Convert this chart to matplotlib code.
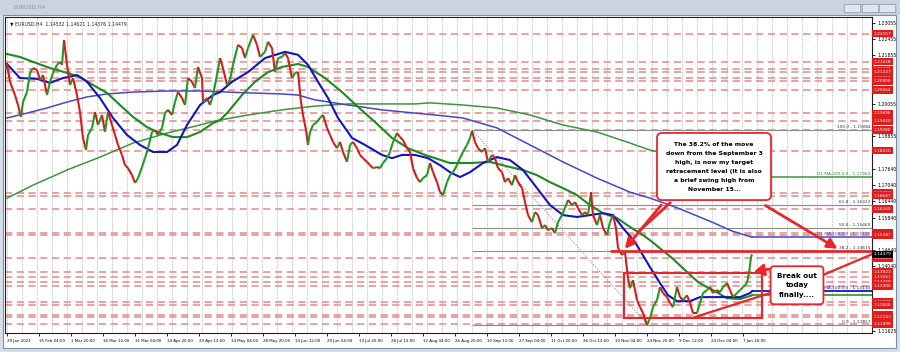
import numpy as np
import matplotlib.pyplot as plt
from matplotlib.collections import LineCollection
from matplotlib.patches import Rectangle, FancyBboxPatch

# EURUSD H4, bar index counted from 29 Jan 2021 00:00
bars = [-2, 0, 6, 16, 22, 28, 32, 40, 46, 52, 60, 66, 72, 80, 86, 92, 100, 106, 110, 114,
        120, 126, 132, 140, 146, 152, 158, 162, 170, 176, 182, 190, 196, 202, 210, 216, 222,
        230, 236, 242, 250, 256, 262, 270, 276, 282, 290, 296, 302, 310, 316, 322, 330, 336,
        342, 350, 356, 362, 370, 376, 382, 390, 392, 400, 406, 412, 420, 426, 432, 440, 446,
        452, 462, 470, 476, 482, 492, 500, 506, 516, 522, 530, 536, 542, 550, 556, 562, 570,
        576, 582, 588, 592, 598, 602, 606, 612, 620, 626, 632, 640, 646, 652, 660, 666, 672,
        680, 686, 692, 700, 706, 712, 720, 726, 732, 740, 746, 752, 760, 766, 772, 780, 786,
        792, 800, 806, 812, 820, 826, 832, 840, 846, 852, 860, 866, 872, 880, 886, 892, 900,
        906, 912, 920, 926, 930, 936, 942, 950, 956, 962, 970, 976, 982, 990, 996, 1002, 1010,
        1016, 1022, 1030, 1036, 1042, 1050, 1056, 1062, 1070, 1076, 1082, 1090, 1096, 1102,
        1110, 1116, 1122, 1130, 1136, 1142, 1150, 1156, 1162, 1168, 1172, 1180, 1186, 1192,
        1200, 1206, 1212, 1218, 1222, 1230, 1236, 1242, 1246, 1252, 1260, 1266, 1272, 1280,
        1286, 1292, 1300, 1306, 1312, 1320, 1326, 1332, 1340, 1346, 1352, 1360, 1366, 1372,
        1380, 1386, 1392, 1400, 1406, 1412, 1420, 1426, 1432, 1440, 1446, 1452, 1460, 1466,
        1472, 1480, 1484, 1488, 1490]
close = [1.2131, 1.2153, 1.2087, 1.2038, 1.2001, 1.1957, 1.2012, 1.2049, 1.2120, 1.2138,
         1.2131, 1.2094, 1.2112, 1.2038, 1.2087, 1.2120, 1.2150, 1.2161, 1.2150, 1.2242,
         1.2150, 1.2075, 1.2101, 1.2038, 1.1975, 1.1879, 1.1834, 1.1890, 1.1916, 1.1975,
         1.1927, 1.1964, 1.1901, 1.1975, 1.1927, 1.1890, 1.1853, 1.1816, 1.1778, 1.1767,
         1.1741, 1.1712, 1.1730, 1.1771, 1.1804, 1.1841, 1.1901, 1.1908, 1.1890, 1.1916,
         1.1971, 1.1983, 1.1964, 1.2012, 1.2049, 1.2027, 1.2001, 1.2101, 1.2087, 1.2064,
         1.2142, 1.2101, 1.2012, 1.2027, 1.2001, 1.2038, 1.2112, 1.2175, 1.2138, 1.2075,
         1.2094, 1.2150, 1.2224, 1.2212, 1.2175, 1.2212, 1.2261, 1.2224, 1.2179, 1.2198,
         1.2235, 1.2212, 1.2123, 1.2175, 1.2179, 1.2194, 1.2175, 1.2101, 1.2120, 1.2123,
         1.2012, 1.1964, 1.1908, 1.1853, 1.1901, 1.1927, 1.1938, 1.1953, 1.1964, 1.1916,
         1.1890, 1.1864, 1.1841, 1.1864, 1.1827, 1.1790, 1.1853, 1.1864, 1.1841, 1.1816,
         1.1804, 1.1790, 1.1778, 1.1767, 1.1771, 1.1767, 1.1786, 1.1804, 1.1827, 1.1864,
         1.1897, 1.1882, 1.1871, 1.1841, 1.1827, 1.1767, 1.1730, 1.1715, 1.1730, 1.1741,
         1.1786, 1.1752, 1.1715, 1.1678, 1.1667, 1.1715, 1.1741, 1.1752, 1.1778, 1.1804,
         1.1827, 1.1853, 1.1879, 1.1905, 1.1864, 1.1841, 1.1827, 1.1841, 1.1790, 1.1816,
         1.1804, 1.1767, 1.1752, 1.1715, 1.1730, 1.1704, 1.1741, 1.1715, 1.1693, 1.1641,
         1.1593, 1.1567, 1.1604, 1.1593, 1.1545, 1.1556, 1.1537, 1.1545, 1.1526, 1.1567,
         1.1593, 1.1619, 1.1649, 1.1630, 1.1641, 1.1619, 1.1593, 1.1604, 1.1593, 1.1678,
         1.1593, 1.1556, 1.1593, 1.1545, 1.1519, 1.1567, 1.1593, 1.1545, 1.1471, 1.1445,
         1.1456, 1.1359, 1.1322, 1.1352, 1.1278, 1.1252, 1.1230, 1.1185, 1.1211, 1.1252,
         1.1278, 1.1326, 1.1304, 1.1289, 1.1267, 1.1252, 1.1326, 1.1289, 1.1278, 1.1296,
         1.1267, 1.1230, 1.1230, 1.1267, 1.1304, 1.1315, 1.1326, 1.1304, 1.1315, 1.1307,
         1.1326, 1.1341, 1.1315, 1.1289, 1.1304, 1.1315, 1.1326, 1.1341, 1.1378, 1.1437,
         1.14479]

# moving averages
ma_h4_100_x = [0, 26, 60, 86, 112, 140, 160, 186, 212, 240, 266, 292, 320, 340, 360, 386,
               412, 426, 450, 482, 516, 556, 582, 602, 622, 642, 662, 690, 716, 750, 770, 790,
               816, 842, 866, 886, 906, 926, 952, 980, 1006, 1032, 1060, 1086, 1112, 1140,
               1166, 1192, 1212, 1232, 1256, 1286, 1306, 1322, 1340, 1366, 1386, 1426, 1466,
               1486, 1490]
ma_h4_100 = [1.2153, 1.2101, 1.2098, 1.2083, 1.2101, 1.2112, 1.2087, 1.2027, 1.1953, 1.1890,
             1.1853, 1.1827, 1.1827, 1.1853, 1.1927, 1.2001, 1.2038, 1.2049, 1.2087, 1.2123,
             1.2175, 1.2198, 1.2187, 1.2150, 1.2087, 1.2027, 1.1953, 1.1879, 1.1853, 1.1816,
             1.1804, 1.1816, 1.1816, 1.1804, 1.1778, 1.1752, 1.1734, 1.1752, 1.1786, 1.1808,
             1.1797, 1.1760, 1.1693, 1.1630, 1.1593, 1.1586, 1.1593, 1.1600, 1.1593, 1.1545,
             1.1493, 1.1400, 1.1341, 1.1296, 1.1274, 1.1274, 1.1289, 1.1289, 1.1289, 1.1304,
             1.1311]
ma_h4_200_x = [0, 26, 52, 86, 120, 146, 172, 200, 226, 252, 280, 306, 332, 360, 386, 412,
               426, 442, 470, 496, 522, 550, 582, 602, 636, 670, 702, 736, 770, 802, 836, 856,
               886, 926, 966, 1006, 1032, 1060, 1086, 1112, 1140, 1166, 1192, 1220, 1246,
               1272, 1286, 1330, 1356, 1382, 1400, 1412, 1440, 1466, 1486, 1490]
ma_h4_200 = [1.2190, 1.2179, 1.2161, 1.2138, 1.2120, 1.2105, 1.2075, 1.2046, 1.2001, 1.1957,
             1.1919, 1.1897, 1.1882, 1.1882, 1.1901, 1.1934, 1.1945, 1.1975, 1.2038, 1.2087,
             1.2123, 1.2142, 1.2153, 1.2142, 1.2101, 1.2049, 1.1994, 1.1938, 1.1879, 1.1841,
             1.1816, 1.1804, 1.1786, 1.1786, 1.1790, 1.1771, 1.1760, 1.1741, 1.1715, 1.1693,
             1.1667, 1.1630, 1.1600, 1.1582, 1.1549, 1.1519, 1.1500, 1.1434, 1.1389, 1.1345,
             1.1326, 1.1315, 1.1285, 1.1282, 1.1293, 1.1296]
ma_d1_100_x = [0, 40, 80, 120, 160, 200, 252, 320, 386, 482, 550, 582, 616, 682, 750, 816,
               856, 912, 980, 1046, 1112, 1180, 1246, 1286, 1342, 1410, 1450, 1490]
ma_d1_100 = [1.1953, 1.1971, 1.1990, 1.2012, 1.2031, 1.2042, 1.2049, 1.2053, 1.2053, 1.2046,
             1.2042, 1.2038, 1.2020, 1.2001, 1.1983, 1.1971, 1.1964, 1.1953, 1.1916, 1.1853,
             1.1790, 1.1730, 1.1678, 1.1656, 1.1619, 1.1567, 1.1534, 1.1511]
ma_d1_200_x = [0, 52, 120, 186, 252, 320, 386, 416, 482, 550, 616, 682, 750, 816, 846, 912,
               980, 1046, 1112, 1180, 1246, 1286, 1386, 1490]
ma_d1_200 = [1.1656, 1.1704, 1.1760, 1.1808, 1.1860, 1.1897, 1.1927, 1.1942, 1.1964, 1.1983,
             1.1997, 1.2005, 1.2005, 1.2005, 1.2009, 1.2001, 1.1990, 1.1964, 1.1927, 1.1901,
             1.1860, 1.1834, 1.1786, 1.1736]

# support / resistance levels
levels = [1.22657, 1.21618, 1.21335, 1.21227, 1.21011, 1.20900, 1.20564, 1.19696, 1.19420,
          1.19080, 1.18320, 1.16757, 1.16647, 1.16160, 1.15283, 1.15187, 1.14323, 1.13823,
          1.13651, 1.13458, 1.13300, 1.12720, 1.12600, 1.12223, 1.12153, 1.11899]
fib_pct = ['100.0', '61.8', '50.0', '38.2', '0.0']
fib_val = [1.19084, 1.16322, 1.15469, 1.14615, 1.11857]
fib_start, fib_end = 930, 1282
ma_d1_200_last = 1.17360
ma_d1_100_last = 1.15110
ma_h4_100_last = 1.13110
last_price = 1.14479

axis_prices = [1.23055, 1.22455, 1.21855, 1.20055, 1.18855, 1.17640, 1.17040, 1.16440,
               1.15840, 1.14640, 1.14040, 1.11625]
date_labels = ['29 Jan 2021', '15 Feb 04:00', '1 Mar 20:00', '16 Mar 12:00', '31 Mar 04:00',
               '14 Apr 20:00', '29 Apr 12:00', '14 May 04:00', '28 May 20:00', '14 Jun 12:00',
               '29 Jun 04:00', '13 Jul 20:00', '28 Jul 12:00', '12 Aug 04:00', '26 Aug 20:00',
               '10 Sep 12:00', '27 Sep 04:00', '11 Oct 20:00', '26 Oct 12:00', '10 Nov 04:00',
               '24 Nov 20:00', '9 Dec 12:00', '24 Dec 04:00', '7 Jan 20:00']
bars_per_label = 64

W, H = 900, 352
fig = plt.figure(figsize=(W / 100, H / 100), dpi=100, facecolor='#d6dee8')


def fx(x):
    return x / W


def fy(y):
    return 1 - y / H


# window chrome (behind the axes)
fig.add_artist(Rectangle((0, fy(15)), 1, 15 / H, transform=fig.transFigure,
                         facecolor='#c9d4e0', edgecolor='none', zorder=-5))
fig.add_artist(Rectangle((fx(3), fy(348)), 893 / W, 333 / H, transform=fig.transFigure,
                         facecolor='white', edgecolor='#7f8fa3', lw=0.8, zorder=-5))
fig.text(fx(14), fy(7.5), 'EURUSD,H4', fontsize=4, color='#8a96a6', va='center')
for bx in [846, 864, 881]:
    fig.add_artist(FancyBboxPatch((fx(bx), fy(12)), 13 / W, 7 / H, transform=fig.transFigure,
                                  boxstyle='round,pad=0.002', facecolor='#dfe6ee',
                                  edgecolor='#8d9aab', lw=0.6, zorder=-4))

ax = fig.add_axes([fx(5), fy(333), 867 / W, 316 / H])
ax.set_xlim(-4, 1730)
ax.set_ylim(1.11560, 1.23272)
for s in ax.spines.values():
    s.set_linewidth(0.8)
    s.set_color('#202020')

# grid
for gx in np.arange(0, 1730, 30):
    ax.axvline(gx, color='#a8a8a8', lw=0.5, ls=(0, (1.5, 1.5)), zorder=0)

# levels
ax.hlines(levels, -4, 1730, colors='#e79b9b', lw=1.3, linestyles=(0, (4, 2.5)), zorder=1)

# fibonacci
for pct, v in zip(fib_pct, fib_val):
    ax.hlines(v, fib_start, 1730, colors='#8c8c8c', lw=0.8, zorder=1.5)
    ax.text(1727, v + 0.0003, f'{pct} - {v:.5f}', ha='right', va='bottom', fontsize=3.1,
            color='#333333', zorder=6)
ax.plot([fib_start, fib_end], [fib_val[0], fib_val[-1]], color='#9a9a9a', lw=0.7,
        ls=(0, (1.5, 1.5)), zorder=1.5)

# moving averages
ax.plot(ma_d1_200_x, ma_d1_200, color='#3c963c', lw=1.1, zorder=2)
ax.plot(ma_d1_100_x, ma_d1_100, color='#4646c8', lw=1.1, zorder=2)
ax.plot(ma_h4_200_x, ma_h4_200, color='#1f8a1f', lw=1.5, zorder=2.2)
ax.plot(ma_h4_100_x, ma_h4_100, color='#1414c0', lw=1.5, zorder=2.3)

ax.hlines(ma_d1_200_last, bars[-1], 1730, colors='#3c963c', lw=1.1, zorder=2)
ax.text(1727, ma_d1_200_last + 0.0003, f'D1 MA-200:0:0 - {ma_d1_200_last:.5f}', ha='right',
        va='bottom', fontsize=3.1, color='#2e8b2e', zorder=6)
ax.hlines(ma_d1_100_last, bars[-1], 1730, colors='#4646c8', lw=1.1, zorder=2)
ax.text(1727, ma_d1_100_last + 0.0003, f'D1 MA-100:0:0 - {ma_d1_100_last:.5f}', ha='right',
        va='bottom', fontsize=3.1, color='#4646c8', zorder=6)
ax.hlines(ma_h4_100[-1], bars[-1], 1730, colors='#1414c0', lw=1.3, zorder=2)
ax.hlines(ma_h4_200[-1], bars[-1], 1730, colors='#1f8a1f', lw=1.1, zorder=2)
ax.text(1727, ma_h4_100[-1] + 0.0003, f'H4 MA-100:0:0 - {ma_h4_100_last:.5f}', ha='right',
        va='bottom', fontsize=3.1, color='#1414c0', zorder=6)

# price
pts = np.column_stack([bars, close])
segs = np.stack([pts[:-1], pts[1:]], axis=1)
cols = ['#1e9a1e' if b > a else '#d41c1c' for a, b in zip(close[:-1], close[1:])]
ax.add_collection(LineCollection(segs, colors=cols, lw=1.5, zorder=3))

# annotations
red = '#e8262a'
ax.hlines(fib_val[3] - 0.0003, 1206, 1730, colors=red, lw=2, zorder=4)
ax.add_patch(Rectangle((1234, 1.1211), 276, 1.1378 - 1.1211, fill=False, edgecolor=red,
                       lw=1.5, zorder=4))
ax.plot([1376, 1526], [1.1215, 1.1304], color=red, lw=1.6, zorder=4)
ax.plot([1632, 1730], [1.1371, last_price], color=red, lw=1.6, zorder=4, clip_on=False)

ax.annotate('', xy=(1232, 1.1460), xytext=(1312, 1.1638),
            arrowprops=dict(arrowstyle='-|>,head_length=0.6,head_width=0.3', color=red, lw=2),
            zorder=4)
ax.plot([1326, 1262], [1.1638, 1.1530], color=red, lw=2, zorder=4)
ax.annotate('', xy=(1666, 1.1463), xytext=(1512, 1.1634),
            arrowprops=dict(arrowstyle='-|>,head_length=0.6,head_width=0.3', color=red, lw=2),
            zorder=4)
ax.annotate('', xy=(1488, 1.1380), xytext=(1530, 1.1395),
            arrowprops=dict(arrowstyle='-|>,head_length=0.6,head_width=0.35', color=red, lw=2),
            zorder=4)

ax.text(1414, 1.1773, 'The 38.2% of the move\ndown from the September 3\nhigh, is now my target\n'
        'retracement level (it is also\na brief swing high from\nNovember 15...',
        ha='center', va='center', fontsize=4.4, fontweight='bold', linespacing=2.0,
        bbox=dict(boxstyle='round,pad=1.4,rounding_size=0.8', fc='white', ec=red, lw=1.3),
        zorder=7)
ax.text(1580, 1.1333, 'Break out\ntoday\nfinally....', ha='center', va='center', fontsize=5.2,
        fontweight='bold', linespacing=1.7,
        bbox=dict(boxstyle='round,pad=0.9,rounding_size=0.5', fc='white', ec=red, lw=1.3),
        zorder=7)

ax.text(0.006, 0.985, '\u25bc EURUSD,H4  1.14532 1.14621 1.14376 1.14479', transform=ax.transAxes,
        fontsize=3.3, va='top', ha='left', color='#222222')

# axes ticks
ax.yaxis.tick_right()
ax.set_yticks(axis_prices)
ax.set_yticklabels([f'{p:.5f}' for p in axis_prices])
ax.tick_params(axis='y', length=2, width=0.6, pad=2, labelsize=3.3)
ax.set_xticks([i * bars_per_label for i in range(len(date_labels))])
ax.set_xticklabels(date_labels)
ax.tick_params(axis='x', length=2, width=0.6, pad=2, labelsize=2.9)
for lbl in ax.get_xticklabels():
    lbl.set_ha('left')

ytr = ax.get_yaxis_transform()
for lv in levels:
    ax.text(1.002, lv, f'{lv:.5f}', transform=ytr, fontsize=3.1, color='white', va='center',
            ha='left', clip_on=False, zorder=8,
            bbox=dict(boxstyle='square,pad=0.4', fc='#e01c1c', ec='none'))
ax.text(1.002, last_price, f'{last_price:.5f}', transform=ytr, fontsize=3.1, color='white',
        va='center', ha='left', clip_on=False, zorder=9,
        bbox=dict(boxstyle='square,pad=0.4', fc='black', ec='none'))

fig.savefig('out.png', dpi=100, facecolor=fig.get_facecolor())
